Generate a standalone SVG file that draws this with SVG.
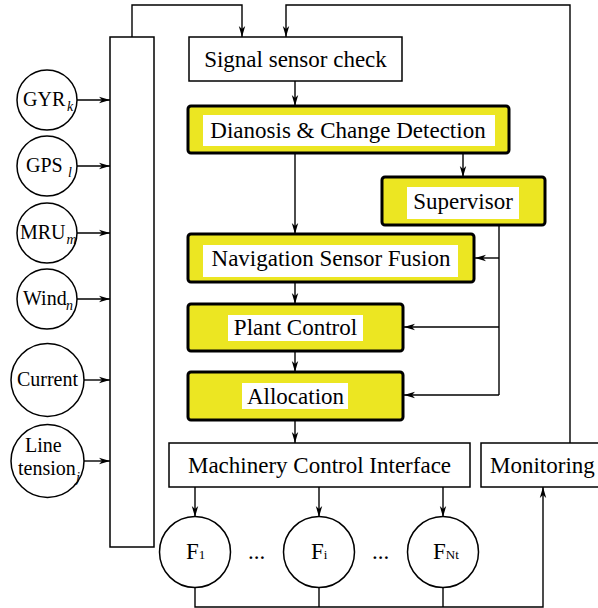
<svg xmlns="http://www.w3.org/2000/svg" width="598" height="608" viewBox="0 0 598 608">
<style>
.box{fill:#fff;stroke:#000;stroke-width:1.5}
.yb{fill:#ece622;stroke:#000;stroke-width:3}
.in{fill:#fff;stroke:none}
.c{fill:#fff;stroke:#000;stroke-width:1.5}
.t{font-size:23px}
.s{font-size:20px}
.sub{font-style:italic;font-size:14px}
.fs{font-size:13px}
.ln{fill:none;stroke:#000;stroke-width:1.4}
.ar{fill:none;stroke:#000;stroke-width:1.4;marker-end:url(#ah)}
</style>
<defs>
<marker id="ah" markerUnits="userSpaceOnUse" markerWidth="12" markerHeight="8" refX="11" refY="4" orient="auto">
<path d="M0,0.8 L11,4 L0,7.2 L3,4 z" fill="#000"/>
</marker>
</defs>
<g id="connectors">
<path class="ar" d="M132 37 V5 H242 V37"/>
<path class="ar" d="M570 443 V5 H286 V37"/>
<path class="ar" d="M295 81 V106"/>
<path class="ar" d="M295 153 V234"/>
<path class="ar" d="M463 153 V177"/>
<path class="ln" d="M499 225 V395"/>
<path class="ar" d="M499 258 H475"/>
<path class="ar" d="M499 327 H404"/>
<path class="ar" d="M499 395 H404"/>
<path class="ar" d="M295 282 V304"/>
<path class="ar" d="M295 351 V372"/>
<path class="ar" d="M295 420 V443"/>
<path class="ar" d="M195 487 V517"/>
<path class="ar" d="M319 487 V517"/>
<path class="ar" d="M443 487 V517"/>
<path class="ar" d="M195 588 V607 H543 V487"/>
<path class="ln" d="M319 588 V607"/>
<path class="ln" d="M443 588 V607"/>
<path class="ar" d="M77 100 H110"/>
<path class="ar" d="M77 166 H110"/>
<path class="ar" d="M77 233 H110"/>
<path class="ar" d="M77 299 H110"/>
<path class="ar" d="M84 380 H110"/>
<path class="ar" d="M84 461 H110"/>
</g>
<g id="bus"><rect class="box" x="110" y="37" width="44" height="510"/></g>
<g font-family="Liberation Serif, Times New Roman, Tinos, DejaVu Serif, Noto Serif, serif" fill="#000">
<g id="gyr"><circle class="c" cx="47" cy="100" r="30"/><text class="s" x="23" y="106">GYR</text><text class="sub" x="67" y="111">k</text></g>
<g id="gps"><circle class="c" cx="47" cy="166" r="30"/><text class="s" x="26" y="172">GPS</text><text class="sub" x="68" y="177">l</text></g>
<g id="mru"><circle class="c" cx="47" cy="233" r="30"/><text class="s" x="20" y="239">MRU</text><text class="sub" x="66.5" y="244">m</text></g>
<g id="wind"><circle class="c" cx="47" cy="299" r="30"/><text class="s" x="23" y="305">Wind</text><text class="sub" x="66" y="310">n</text></g>
<g id="current"><circle class="c" cx="47.5" cy="380" r="36.5"/><text class="s" x="47.5" y="386" text-anchor="middle">Current</text></g>
<g id="linetension"><circle class="c" cx="47.5" cy="461" r="36.5"/><text class="s" x="25" y="452">Line</text><text class="s" x="18" y="475">tension</text><text class="sub" x="76" y="482">j</text></g>
<g id="signal"><rect class="box" x="189" y="37" width="213" height="44"/><text class="t" x="295.5" y="67" text-anchor="middle">Signal sensor check</text></g>
<g id="diag"><rect class="yb" x="188" y="106" width="321" height="47" rx="3"/><rect class="in" x="203" y="115" width="292" height="31"/><text class="t" x="348" y="138" text-anchor="middle">Dianosis &amp; Change Detection</text></g>
<g id="supervisor"><rect class="yb" x="382" y="177" width="163" height="48" rx="3"/><rect class="in" x="407" y="187" width="112" height="32"/><text class="t" x="463" y="209" text-anchor="middle">Supervisor</text></g>
<g id="navigation"><rect class="yb" x="188" y="234" width="286" height="48" rx="3"/><rect class="in" x="203" y="245" width="255" height="32"/><text class="t" x="331" y="266" text-anchor="middle">Navigation Sensor Fusion</text></g>
<g id="plant"><rect class="yb" x="188" y="304" width="215" height="47" rx="3"/><rect class="in" x="228" y="315" width="135" height="26"/><text class="t" x="295.5" y="335" text-anchor="middle">Plant Control</text></g>
<g id="allocation"><rect class="yb" x="188" y="372" width="215" height="48" rx="3"/><rect class="in" x="242" y="383" width="106" height="26"/><text class="t" x="295.5" y="404" text-anchor="middle">Allocation</text></g>
<g id="machinery"><rect class="box" x="169" y="443" width="301" height="44"/><text class="t" x="319.5" y="473" text-anchor="middle">Machinery Control Interface</text></g>
<g id="monitoring"><rect class="box" x="481" y="443" width="140" height="44"/><text class="t" x="490" y="473">Monitoring</text></g>
<g id="f1"><circle class="c" cx="195" cy="552" r="35.5"/><text class="t" x="186" y="559">F<tspan class="fs">1</tspan></text></g>
<g id="fi"><circle class="c" cx="319" cy="552" r="35.5"/><text class="t" x="311" y="559">F<tspan class="fs">i</tspan></text></g>
<g id="fnt"><circle class="c" cx="443" cy="552" r="35.5"/><text class="t" x="433" y="559">F<tspan class="fs">Nt</tspan></text></g>
<g id="dots"><text class="t" x="256.5" y="559" text-anchor="middle">...</text><text class="t" x="380.5" y="559" text-anchor="middle">...</text></g>
</g>
</svg>
